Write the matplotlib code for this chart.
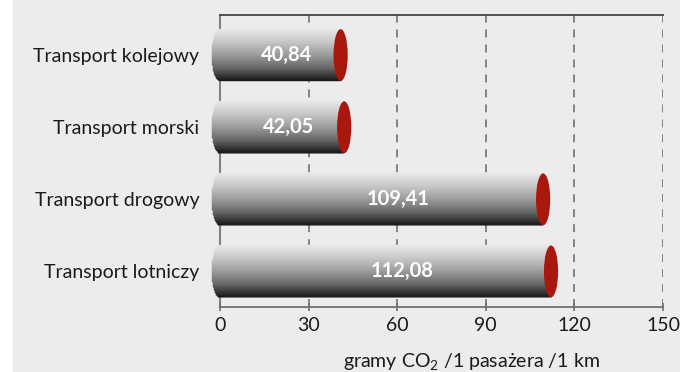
import numpy as np
import matplotlib
matplotlib.use("Agg")
import matplotlib.pyplot as plt
from matplotlib.patches import Ellipse, Rectangle
from matplotlib.collections import PolyCollection

categories = ["Transport kolejowy", "Transport morski", "Transport drogowy", "Transport lotniczy"]
values = [40.84, 42.05, 109.41, 112.08]
value_labels = ["40,84", "42,05", "109,41", "112,08"]
xticks = [0, 30, 60, 90, 120, 150]
xlabel = "gramy CO$_2$ /1 pasażera /1 km"

family = "Lato"
plt.rcParams["font.family"] = [family, "DejaVu Sans"]
plt.rcParams["mathtext.fontset"] = "custom"
plt.rcParams["mathtext.rm"] = family
plt.rcParams["mathtext.it"] = family

BG = "#ececec"
fig = plt.figure(figsize=(6.8, 3.72), dpi=100, facecolor=BG)
fig.patches.append(Rectangle((0, 0), 13 / 680, 1, transform=fig.transFigure,
                             facecolor="white", edgecolor="none", zorder=0))

ax = fig.add_axes([220 / 680, 1 - 307 / 372, 443 / 680, 292 / 372])
ax.set_facecolor("none")
ax.set_xlim(0, 150)
ax.set_ylim(3.493, -0.556)

bar_h = 0.72
cap_w = 4.8    # width of the end ellipse in data units
round_w = 2.8  # depth of the rounded left end
n_strips = 90

cmap = matplotlib.colors.LinearSegmentedColormap.from_list(
    "cyl", ["#e9e9e9", "#c8c8c8", "#9c9c9c", "#686868", "#181818"])


def left_edge(y, yc):
    """x of the rounded left end at height y for a cylinder centred on yc."""
    r = np.clip((y - yc) / (bar_h / 2), -1, 1)
    return -round_w * np.sqrt(1 - r ** 2)


for i, v in enumerate(values):
    edges = np.linspace(i - bar_h / 2, i + bar_h / 2, n_strips + 1)
    polys, cols = [], []
    for k in range(n_strips):
        y0, y1 = edges[k], edges[k + 1]
        polys.append([(left_edge(y0, i), y0), (v, y0), (v, y1), (left_edge(y1, i), y1)])
        cols.append(cmap((k + 0.5) / n_strips))
    body = PolyCollection(polys, facecolors=cols, edgecolors=cols, linewidths=0.3,
                          zorder=3, clip_on=False)
    ax.add_collection(body)
    ax.add_patch(Ellipse((v, i), cap_w, bar_h, facecolor="#a8180c",
                         edgecolor="none", zorder=4))
    ax.text(v * 0.55, i, value_labels[i], color="white", fontsize=14.5,
            fontweight="bold", ha="center", va="center", zorder=5)

ax.set_xlim(0, 150)
ax.set_ylim(3.493, -0.556)

for x in xticks[1:]:
    ax.axvline(x, color="#666666", lw=1.1, linestyle=(0, (5.2, 4.6)), zorder=1)

ax.spines["right"].set_visible(False)
ax.spines["top"].set_color("#444444")
ax.spines["top"].set_linewidth(1.3)
ax.spines["left"].set_color("#808080")
ax.spines["left"].set_linewidth(1.5)
ax.spines["left"].set_zorder(1)
ax.spines["bottom"].set_color("#707070")
ax.spines["bottom"].set_linewidth(1.3)

ax.set_xticks(xticks)
ax.set_xticklabels([str(x) for x in xticks], fontsize=14, color="#1a1a1a")
ax.tick_params(axis="x", direction="inout", length=6, width=1.2, color="#707070", pad=4)
ax.set_yticks(range(len(categories)))
ax.set_yticklabels(categories, fontsize=14, color="#1a1a1a")
ax.tick_params(axis="y", length=0, pad=15)

ax.text(0.568, -0.152, xlabel, transform=ax.transAxes, ha="center", va="top",
        fontsize=14, color="#1a1a1a")

fig.savefig("out.png", dpi=100, facecolor=BG)
